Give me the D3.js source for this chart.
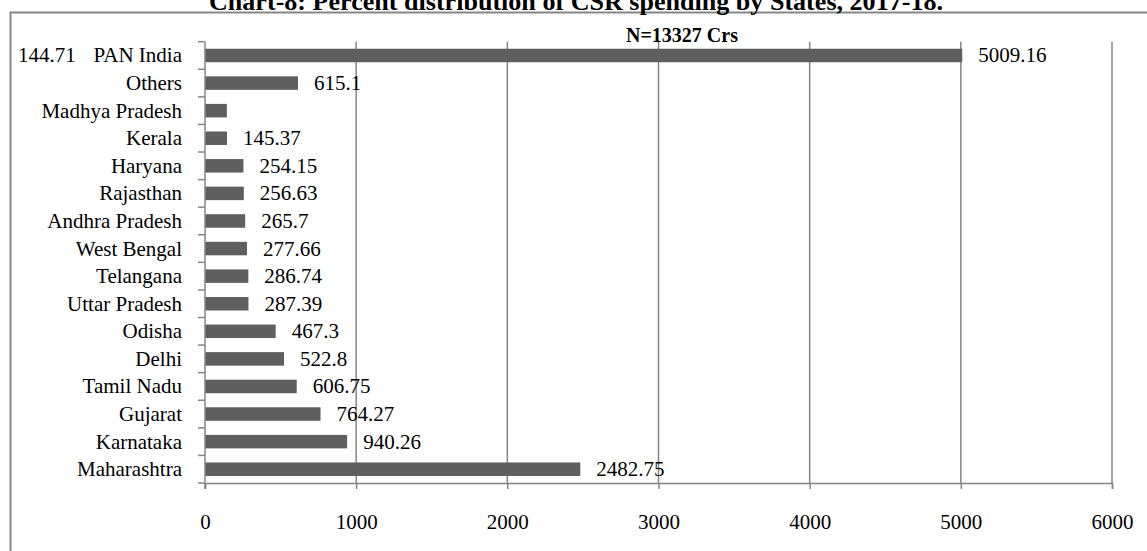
<!DOCTYPE html>
<html>
<head>
<meta charset="utf-8">
<script src="https://cdn.jsdelivr.net/npm/d3@7"></script>
<style>
  html, body { margin: 0; padding: 0; background: #fff; }
  svg text { font-family: "Liberation Serif", "Times New Roman", serif; fill: #000; }
</style>
</head>
<body>
<svg id="chart" width="1147" height="551"></svg>
<script>
const categories = ["PAN India", "Others", "Madhya Pradesh", "Kerala", "Haryana", "Rajasthan",
  "Andhra Pradesh", "West Bengal", "Telangana", "Uttar Pradesh", "Odisha", "Delhi",
  "Tamil Nadu", "Gujarat", "Karnataka", "Maharashtra"];
const values = [5009.16, 615.1, 144.71, 145.37, 254.15, 256.63, 265.7, 277.66, 286.74,
  287.39, 467.3, 522.8, 606.75, 764.27, 940.26, 2482.75];
const xTicks = [0, 1000, 2000, 3000, 4000, 5000, 6000];
const titleText = "Chart-8: Percent distribution of CSR spending by States, 2017-18.";
const subtitleText = "N=13327 Crs";
// the label of Madhya Pradesh is misplaced in the original, at the far left of the first row
const misplacedLabel = { category: "Madhya Pradesh", row: "PAN India" };

const svg = d3.select("#chart");
const m = { left: 205, right: 1112, top: 41.7, bottom: 483 };
const gridColor = "#868686";
const fs = 21;

// border
svg.append("rect")
  .attr("x", 10.5).attr("y", 12.5)
  .attr("width", 1200).attr("height", 600)
  .attr("fill", "none").attr("stroke", gridColor).attr("stroke-width", 2);

const x = d3.scaleLinear().domain([0, 6000]).range([m.left, m.right]);
const y = d3.scaleBand().domain(categories).range([m.top, m.bottom]).paddingInner(0.51).paddingOuter(0.255);
const yFull = d3.scaleBand().domain(categories).range([m.top, m.bottom]);

// gridlines
svg.append("g").selectAll("line").data(xTicks.filter(d => d > 0)).join("line")
  .attr("x1", d => x(d)).attr("x2", d => x(d))
  .attr("y1", m.top).attr("y2", m.bottom)
  .attr("stroke", gridColor).attr("stroke-width", 1.5);

// bars
svg.append("g").selectAll("rect").data(categories).join("rect")
  .attr("x", x(0))
  .attr("y", d => y(d))
  .attr("width", (d, i) => x(values[i]) - x(0))
  .attr("height", y.bandwidth())
  .attr("fill", "#5f5f5f");

// x axis
const xAxis = svg.append("g").attr("transform", `translate(0,${m.bottom})`)
  .call(d3.axisBottom(x).tickValues(xTicks).tickSize(6).tickPadding(25).tickFormat(d3.format("d")));
xAxis.select(".domain").attr("stroke", gridColor).attr("stroke-width", 1.5);
xAxis.selectAll(".tick line").attr("stroke", gridColor).attr("stroke-width", 1.5);
xAxis.selectAll("text").attr("font-size", fs).attr("font-family", "Liberation Serif").attr("fill", "#000");

// y axis (category) with ticks at band boundaries
const yAxisG = svg.append("g");
yAxisG.append("line")
  .attr("x1", x(0)).attr("x2", x(0)).attr("y1", m.top).attr("y2", m.bottom + 6)
  .attr("stroke", gridColor).attr("stroke-width", 1.5);
const bounds = categories.map(c => yFull(c)).concat([m.bottom]);
yAxisG.selectAll("line.t").data(bounds).join("line").attr("class", "t")
  .attr("x1", x(0) - 7).attr("x2", x(0))
  .attr("y1", d => d).attr("y2", d => d)
  .attr("stroke", gridColor).attr("stroke-width", 1.5);
yAxisG.selectAll("text").data(categories).join("text")
  .attr("x", x(0) - 23)
  .attr("y", d => yFull(d) + yFull.bandwidth() / 2 + 7)
  .attr("text-anchor", "end")
  .attr("font-size", fs)
  .text(d => d);

// value labels
svg.append("g").selectAll("text").data(categories).join("text")
  .attr("x", (d, i) => d === misplacedLabel.category ? 18 : x(values[i]) + 16)
  .attr("y", d => {
    const row = d === misplacedLabel.category ? misplacedLabel.row : d;
    return y(row) + y.bandwidth() / 2 + 7;
  })
  .attr("font-size", fs)
  .text((d, i) => values[i]);

// title
svg.append("text")
  .attr("x", 209).attr("y", 10)
  .attr("font-size", 25).attr("font-weight", "bold")
  .attr("textLength", 734).attr("lengthAdjust", "spacingAndGlyphs")
  .text(titleText);

// subtitle
svg.append("text")
  .attr("x", 682).attr("y", 41.5)
  .attr("text-anchor", "middle")
  .attr("font-size", 20).attr("font-weight", "bold")
  .text(subtitleText);
</script>
</body>
</html>
